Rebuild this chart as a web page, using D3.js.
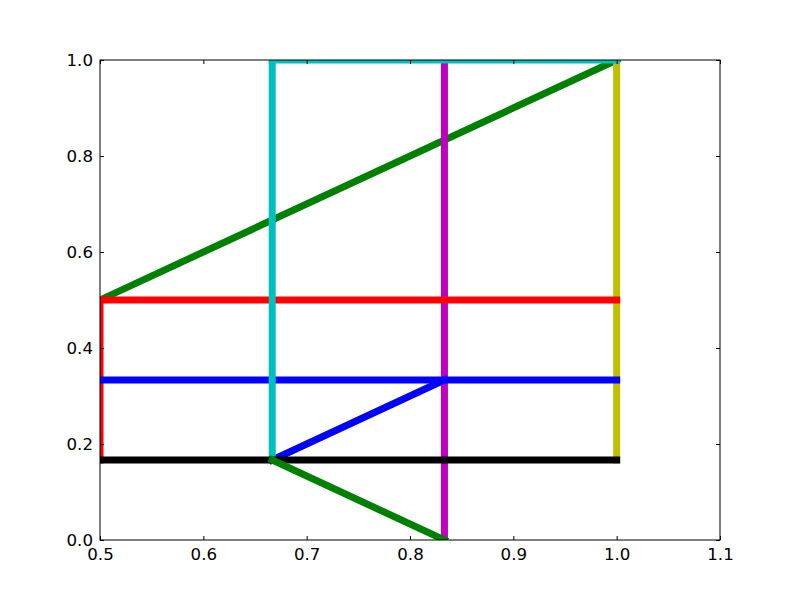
<!DOCTYPE html>
<html><head><meta charset="utf-8">
<script src="https://cdn.jsdelivr.net/npm/d3@7"></script>
<style>body{margin:0;background:#fff}svg{display:block}</style>
</head><body>
<svg id="c" width="800" height="600"></svg>
<script>
const xTicks = [0.5, 0.6, 0.7, 0.8, 0.9, 1.0, 1.1];
const yTicks = [0.0, 0.2, 0.4, 0.6, 0.8, 1.0];
// segments in drawing order: [x1,y1,x2,y2], colour
const segX1 = [0.5, 1.0, 5/6, 0.5, 0.5, 0.5, 2/3, 2/3, 2/3, 0.5, 2/3];
const segY1 = [0.5, 1/6, 0.0, 0.5, 1/6, 1/3, 1/6, 1/6, 1.0, 1/6, 1/6];
const segX2 = [1.0, 1.0, 5/6, 1.0, 0.5, 1.0, 5/6, 2/3, 1.0, 1.0, 5/6];
const segY2 = [1.0, 1.0, 1.0, 0.5, 0.5, 1/3, 1/3, 1.0, 1.0, 1/6, 0.0];
const segColor = ["#008000", "#bfbf00", "#bf00bf", "#ff0000", "#ff0000", "#0000ff", "#0000ff", "#00bfbf", "#00bfbf", "#000000", "#008000"];

const svg = d3.select("#c");
const L = 100, R = 720, T = 60, B = 540;
const x = d3.scaleLinear().domain([0.5, 1.1]).range([L, R]);
const y = d3.scaleLinear().domain([0, 1]).range([B, T]);

svg.append("rect").attr("width", 800).attr("height", 600).attr("fill", "#fff");
svg.append("defs").append("clipPath").attr("id", "clip")
  .append("rect").attr("x", L).attr("y", T).attr("width", R - L).attr("height", B - T);

const g = svg.append("g").attr("clip-path", "url(#clip)");
segX1.forEach((d, i) => {
  g.append("line")
    .attr("x1", x(segX1[i])).attr("y1", y(segY1[i]))
    .attr("x2", x(segX2[i])).attr("y2", y(segY2[i]))
    .attr("stroke", segColor[i]).attr("stroke-width", 7)
    .attr("stroke-linecap", "square");
});

const font = "DejaVu Sans";
const fs = "16.67px";
// axes
const axB = svg.append("g").attr("transform", `translate(0,${B})`)
  .call(d3.axisBottom(x).tickValues(xTicks).tickSize(-4).tickPadding(8).tickFormat(d3.format(".1f")));
const axT = svg.append("g").attr("transform", `translate(0,${T})`)
  .call(d3.axisTop(x).tickValues(xTicks).tickSize(-4).tickFormat(""));
const axL = svg.append("g").attr("transform", `translate(${L},0)`)
  .call(d3.axisLeft(y).tickValues(yTicks).tickSize(-4).tickPadding(7).tickFormat(d3.format(".1f")));
const axR = svg.append("g").attr("transform", `translate(${R},0)`)
  .call(d3.axisRight(y).tickValues(yTicks).tickSize(-4).tickFormat(""));
[axB, axT, axL, axR].forEach(a => {
  a.select(".domain").remove();
  a.selectAll("line").attr("stroke", "#000").attr("stroke-width", 1);
  a.selectAll("text").attr("font-family", font).attr("font-size", fs).attr("fill", "#000");
});
svg.append("rect").attr("x", L).attr("y", T).attr("width", R - L).attr("height", B - T)
  .attr("fill", "none").attr("stroke", "#000").attr("stroke-width", 1);
</script>
</body></html>
